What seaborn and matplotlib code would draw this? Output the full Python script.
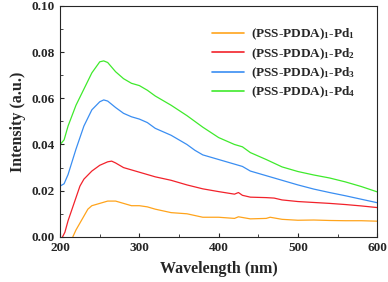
import pandas as pd
import seaborn as sns
import matplotlib.pyplot as plt

# wavelengths (nm) and intensities
wl_pd4 = [200, 205, 210, 220, 230, 240, 250, 255, 260, 270, 280, 290, 300, 310, 320, 340,
          360, 370, 380, 400, 420, 430, 440, 460, 480, 500, 520, 540, 560, 580, 600]
pd4 = [0.040, 0.042, 0.048, 0.057, 0.064, 0.071, 0.0758, 0.0762, 0.0755, 0.0715, 0.0685,
       0.0665, 0.0655, 0.0635, 0.061, 0.057, 0.0525, 0.050, 0.0475, 0.0430, 0.0400, 0.0390,
       0.0365, 0.0335, 0.0303, 0.0283, 0.0268, 0.0255, 0.0238, 0.0218, 0.0195]

wl_pd3 = [200, 205, 210, 220, 230, 240, 250, 255, 260, 270, 280, 290, 300, 310, 320, 340,
          360, 370, 380, 400, 420, 430, 440, 460, 480, 500, 520, 540, 560, 580, 600]
pd3 = [0.022, 0.023, 0.027, 0.038, 0.048, 0.055, 0.0585, 0.0593, 0.0588, 0.056, 0.0535,
       0.052, 0.051, 0.0495, 0.047, 0.044, 0.040, 0.0375, 0.0355, 0.0335, 0.0315, 0.0305,
       0.0285, 0.0265, 0.0245, 0.0225, 0.0207, 0.0192, 0.0178, 0.0163, 0.0148]

wl_pd2 = [203, 206, 210, 215, 220, 225, 230, 240, 250, 260, 265, 270, 280, 290, 300, 320,
          340, 360, 380, 400, 420, 425, 430, 440, 460, 470, 480, 500, 520, 540, 560, 580, 600]
pd2 = [0.0, 0.002, 0.007, 0.012, 0.017, 0.022, 0.025, 0.0285, 0.031, 0.0325, 0.0328, 0.032,
       0.030, 0.029, 0.028, 0.026, 0.0245, 0.0225, 0.0208, 0.0196, 0.0185, 0.0192, 0.0180,
       0.0172, 0.0170, 0.0168, 0.0160, 0.0153, 0.0149, 0.0145, 0.0140, 0.0134, 0.0127]

wl_pd1 = [216, 220, 225, 230, 235, 240, 250, 260, 270, 280, 290, 300, 310, 320, 340, 360,
          380, 400, 420, 425, 440, 460, 465, 480, 500, 520, 540, 560, 580, 600]
pd1 = [0.0, 0.003, 0.006, 0.009, 0.012, 0.0135, 0.0145, 0.0155, 0.0155, 0.0145, 0.0135,
       0.0135, 0.013, 0.012, 0.0105, 0.0100, 0.0085, 0.0085, 0.0080, 0.0087, 0.0078, 0.0080,
       0.0085, 0.0076, 0.0072, 0.0073, 0.0071, 0.0070, 0.0070, 0.0068]

labels = ["(PSS-PDDA)$_1$-Pd$_1$", "(PSS-PDDA)$_1$-Pd$_2$",
          "(PSS-PDDA)$_1$-Pd$_3$", "(PSS-PDDA)$_1$-Pd$_4$"]
colors = ["#FFA41C", "#F2222B", "#3A8EF2", "#3FEA2C"]

frames = []
for lab, x, y in zip(labels, [wl_pd1, wl_pd2, wl_pd3, wl_pd4], [pd1, pd2, pd3, pd4]):
    frames.append(pd.DataFrame({"wl": x, "I": y, "sample": lab}))
df = pd.concat(frames, ignore_index=True)

sns.set_style("ticks")
plt.rcParams["font.family"] = ["Liberation Serif", "DejaVu Serif"]
plt.rcParams["font.weight"] = "bold"
plt.rcParams["mathtext.default"] = "regular"

fig = plt.figure(figsize=(3.88, 2.82), dpi=100)
ax = fig.add_axes([0.155, 0.16, 0.817, 0.819])

sns.lineplot(data=df, x="wl", y="I", hue="sample", palette=colors,
             hue_order=labels, estimator=None, linewidth=0.9, ax=ax)

ax.set_xlim(200, 600)
ax.set_ylim(0, 0.10)
ax.set_xticks([200, 300, 400, 500, 600])
ax.set_xticks([250, 350, 450, 550], minor=True)
ax.set_yticks([0, 0.02, 0.04, 0.06, 0.08, 0.10])
ax.set_yticks([0.01, 0.03, 0.05, 0.07, 0.09], minor=True)
ax.set_yticklabels([f"{v:.2f}" for v in [0, 0.02, 0.04, 0.06, 0.08, 0.10]])
ax.tick_params(direction="in", labelsize=9.5, length=3, width=0.8, pad=4)
ax.tick_params(which="minor", direction="in", length=2, width=0.6)
for lab in ax.get_xticklabels() + ax.get_yticklabels():
    lab.set_fontweight("bold")
for s in ax.spines.values():
    s.set_linewidth(0.8)

ax.set_xlabel("Wavelength (nm)", fontsize=11.5, fontweight="bold", labelpad=5)
ax.set_ylabel("Intensity (a.u.)", fontsize=11.5, fontweight="bold", labelpad=4)

leg = ax.legend(loc="upper left", bbox_to_anchor=(0.48, 0.91), frameon=False,
                borderaxespad=0, borderpad=0,
                prop={"size": 9.5, "weight": "bold"}, handlelength=2.4,
                labelspacing=0.3, handletextpad=0.5)
for h in leg.get_lines():
    h.set_linewidth(1.2)

fig.savefig("out.png", dpi=100)
